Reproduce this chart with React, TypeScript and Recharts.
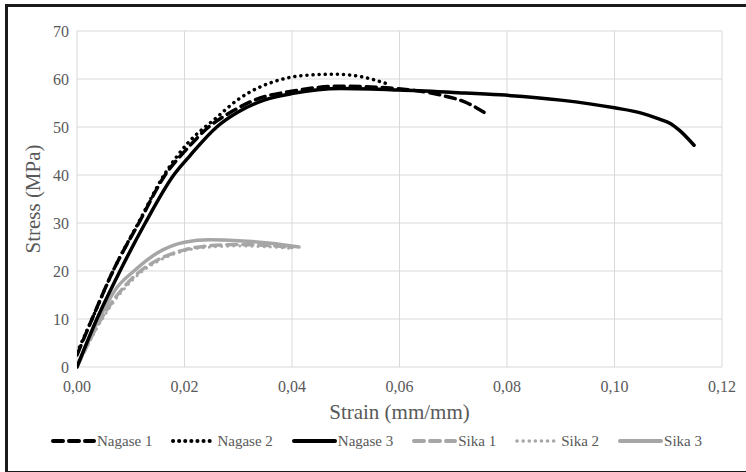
import React from 'react';
import { LineChart, Line, XAxis, YAxis, CartesianGrid } from 'recharts';

// strain (mm/mm) and stress (MPa)
const nagase1Strain = [0, 0.0028, 0.0067, 0.0115, 0.0164, 0.0205, 0.0245, 0.0285, 0.033, 0.0402, 0.049, 0.0582, 0.0675, 0.0726, 0.0765];
const nagase1Stress = [2.5, 10, 20, 30, 40, 45.5, 50, 53, 55.6, 57.5, 58.5, 58.1, 56.7, 55, 52.5];

const nagase2Strain = [0, 0.0028, 0.0067, 0.0114, 0.0162, 0.0205, 0.026, 0.0298, 0.0322, 0.0365, 0.0428, 0.0484, 0.0532, 0.0577];
const nagase2Stress = [3, 10, 20, 30, 40, 46.5, 52, 55.6, 57.3, 59.4, 60.8, 61, 60.4, 59];

const nagase3Strain = [0, 0.0037, 0.008, 0.0127, 0.018, 0.021, 0.026, 0.0298, 0.0348, 0.0402, 0.049, 0.06, 0.07, 0.0787, 0.09, 0.1, 0.105, 0.1085, 0.1103, 0.1121, 0.1148];
const nagase3Stress = [0, 10, 20, 30, 40, 44, 50, 53, 55.6, 57, 58, 57.7, 57.2, 56.7, 55.6, 54, 52.9, 51.6, 50.8, 49.3, 46.2];

const sika1Strain = [0, 0.0045, 0.0118, 0.015, 0.02, 0.025, 0.03, 0.036, 0.04];
const sika1Stress = [0, 10, 20, 22.3, 24.4, 25.3, 25.5, 25.3, 24.9];

const sika2Strain = [0, 0.0047, 0.012, 0.015, 0.02, 0.025, 0.03, 0.036, 0.04];
const sika2Stress = [0, 10, 19.8, 22, 24.2, 25, 25.2, 25, 24.7];

const sika3Strain = [0, 0.0041, 0.0074, 0.0106, 0.015, 0.02, 0.0247, 0.03, 0.036, 0.0413];
const sika3Stress = [0, 10, 16.5, 20, 23.8, 26, 26.5, 26.3, 25.8, 25];

const xTicks = [0, 0.02, 0.04, 0.06, 0.08, 0.1, 0.12];
const yTicks = [0, 10, 20, 30, 40, 50, 60, 70];

const toPoints = (xs: number[], ys: number[]) => xs.map((x, i) => ({ x, y: ys[i] }));

const FONT = "'Liberation Serif', 'Times New Roman', Tinos, 'DejaVu Serif', serif";
const BLACK = '#000000';
const GRAY = '#a6a6a6';
const DASH = '10 6';
const DOT = '0.1 6';

const series = [
  { name: 'Nagase 1', data: toPoints(nagase1Strain, nagase1Stress), color: BLACK, dash: DASH, width: 3.5 },
  { name: 'Nagase 2', data: toPoints(nagase2Strain, nagase2Stress), color: BLACK, dash: DOT, width: 3.5 },
  { name: 'Nagase 3', data: toPoints(nagase3Strain, nagase3Stress), color: BLACK, dash: undefined, width: 3.5 },
  { name: 'Sika 1', data: toPoints(sika1Strain, sika1Stress), color: GRAY, dash: DASH, width: 3.5 },
  { name: 'Sika 2', data: toPoints(sika2Strain, sika2Stress), color: GRAY, dash: DOT, width: 3 },
  { name: 'Sika 3', data: toPoints(sika3Strain, sika3Stress), color: GRAY, dash: undefined, width: 3.5 },
];

// sika drawn first so the black curves sit on top
const drawOrder = [3, 4, 5, 0, 1, 2];

export default function App() {
  return (
    <div
      style={{
        position: 'absolute',
        left: 0,
        top: 0,
        width: 746,
        height: 472,
        overflow: 'hidden',
        background: '#fff',
        fontFamily: FONT,
      }}
    >
      <div
        style={{
          position: 'absolute',
          left: 5,
          top: 4,
          width: 760,
          height: 464,
          borderLeft: '3px solid #1a1a1a',
          borderTop: '3px solid #1a1a1a',
          borderBottom: '3px solid #1a1a1a',
        }}
      />
      <LineChart
        width={746}
        height={472}
        margin={{ top: 31, right: 24, bottom: 75, left: 17 }}
        style={{ position: 'absolute', left: 0, top: 0 }}
      >
        <CartesianGrid stroke="#d9d9d9" strokeWidth={1} />
        <XAxis
          type="number"
          dataKey="x"
          domain={[0, 0.12]}
          ticks={xTicks}
          tickFormatter={(v) => v.toFixed(2).replace('.', ',')}
          axisLine={false}
          tickLine={false}
          tickMargin={8}
          height={30}
          tick={{ fill: '#595959', fontSize: 16, fontFamily: FONT }}
          allowDataOverflow
        />
        <YAxis
          type="number"
          domain={[0, 70]}
          ticks={yTicks}
          axisLine={false}
          tickLine={false}
          width={60}
          tick={{ fill: '#595959', fontSize: 16, fontFamily: FONT }}
        />
        {drawOrder.map((i) => {
          const s = series[i];
          return (
            <Line
              key={s.name}
              data={s.data}
              dataKey="y"
              type="monotone"
              stroke={s.color}
              strokeWidth={s.width}
              strokeDasharray={s.dash}
              strokeLinecap="round"
              dot={false}
              isAnimationActive={false}
            />
          );
        })}
      </LineChart>
      <div
        style={{
          position: 'absolute',
          left: 77,
          width: 645,
          top: 399,
          lineHeight: '26px',
          textAlign: 'center',
          fontSize: 21,
          color: '#595959',
        }}
      >
        Strain (mm/mm)
      </div>
      <div
        style={{
          position: 'absolute',
          left: 33 - 100,
          top: 199 - 13,
          width: 200,
          lineHeight: '26px',
          textAlign: 'center',
          fontSize: 21,
          color: '#595959',
          transform: 'rotate(-90deg)',
        }}
      >
        Stress (MPa)
      </div>
      <div
        style={{
          position: 'absolute',
          left: 0,
          width: 752,
          top: 431,
          height: 20,
          display: 'flex',
          justifyContent: 'center',
          alignItems: 'center',
          gap: 18,
          fontSize: 15,
          color: '#595959',
        }}
      >
        {series.map((s) => (
          <div key={s.name} style={{ display: 'flex', alignItems: 'center' }}>
            <svg width={46} height={10}>
              <line
                x1={3}
                y1={5}
                x2={44}
                y2={5}
                stroke={s.color}
                strokeWidth={s.width + 0.5}
                strokeDasharray={s.dash}
                strokeLinecap="round"
              />
            </svg>
            <span style={{ marginLeft: 1 }}>{s.name}</span>
          </div>
        ))}
      </div>
    </div>
  );
}
